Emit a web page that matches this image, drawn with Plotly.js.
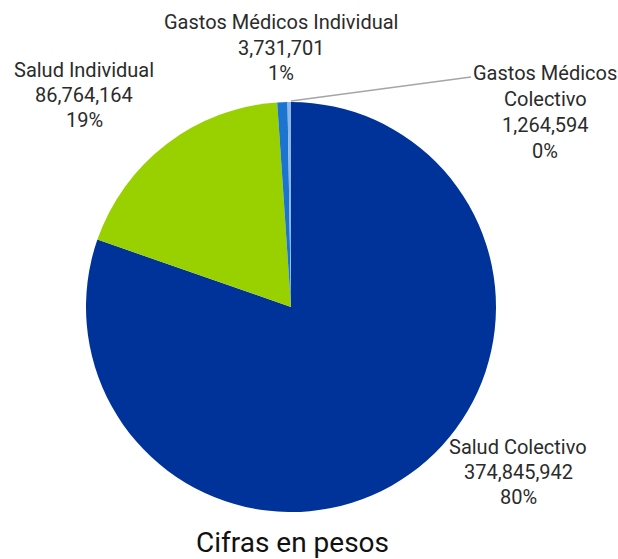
<!DOCTYPE html>
<html>
<head>
<meta charset="utf-8">
<script src="https://cdn.plot.ly/plotly-3.0.1.min.js"></script>
<style>html,body{margin:0;padding:0;background:#fff;}#chart{width:618px;height:559px;}</style>
</head>
<body>
<div id="chart"></div>
<script>
var categories = ["Salud Colectivo", "Salud Individual", "Gastos Médicos Individual", "Gastos Médicos Colectivo"];
var values = [374845942, 86764164, 3731701, 1264594];
var percentLabels = ["80%", "19%", "1%", "0%"];
var colors = ["#003399", "#99D100", "#1B74CF", "#8DB8E6"];
var chartTitle = "Cifras en pesos";

var FONT = "Roboto, 'Liberation Sans', sans-serif";

function fmt(n) { return n.toLocaleString("en-US"); }

// label placement (paper px, centre of each text line)
var labelPos = [
  {x: 518, y: [447, 472, 497], lines: ["Salud Colectivo"]},
  {x: 84, y: [70, 95, 120], lines: ["Salud Individual"]},
  {x: 281, y: [22, 48, 73], lines: ["Gastos Médicos Individual"]},
  {x: 545, y: [73, 99, 125, 151], lines: ["Gastos Médicos", "Colectivo"]}
];

var W = 618, H = 559;
var annotations = [];
labelPos.forEach(function (p, i) {
  var lines = p.lines.concat([fmt(values[i]), percentLabels[i]]);
  lines.forEach(function (t, j) {
    annotations.push({
      text: t, xref: "paper", yref: "paper",
      x: p.x / W, y: 1 - p.y[j] / H,
      xanchor: "center", yanchor: "middle", showarrow: false,
      font: {family: FONT, size: 20, color: "#2b2b2b"}
    });
  });
});
annotations.push({
  text: chartTitle, xref: "paper", yref: "paper",
  x: 292 / W, y: 1 - 542 / H, xanchor: "center", yanchor: "middle", showarrow: false,
  font: {family: FONT, size: 28, color: "#111111"}
});

var cx = 291, cy = 307, r = 205;
var trace = {
  type: "pie",
  labels: categories,
  values: values,
  sort: false,
  direction: "clockwise",
  rotation: 0,
  marker: {colors: colors, line: {width: 0}},
  textinfo: "none",
  hoverinfo: "label+value+percent",
  domain: {x: [(cx - r) / W, (cx + r) / W], y: [1 - (cy + r) / H, 1 - (cy - r) / H]}
};

var layout = {
  width: W, height: H,
  margin: {l: 0, r: 0, t: 0, b: 0},
  paper_bgcolor: "#ffffff",
  showlegend: false,
  annotations: annotations,
  shapes: [{
    type: "line", xref: "paper", yref: "paper",
    x0: 291 / W, y0: 1 - 101 / H, x1: 471 / W, y1: 1 - 77 / H,
    line: {color: "#A6A6A6", width: 1.5}
  }]
};

Plotly.newPlot("chart", [trace], layout, {displayModeBar: false, staticPlot: true});
</script>
</body>
</html>
